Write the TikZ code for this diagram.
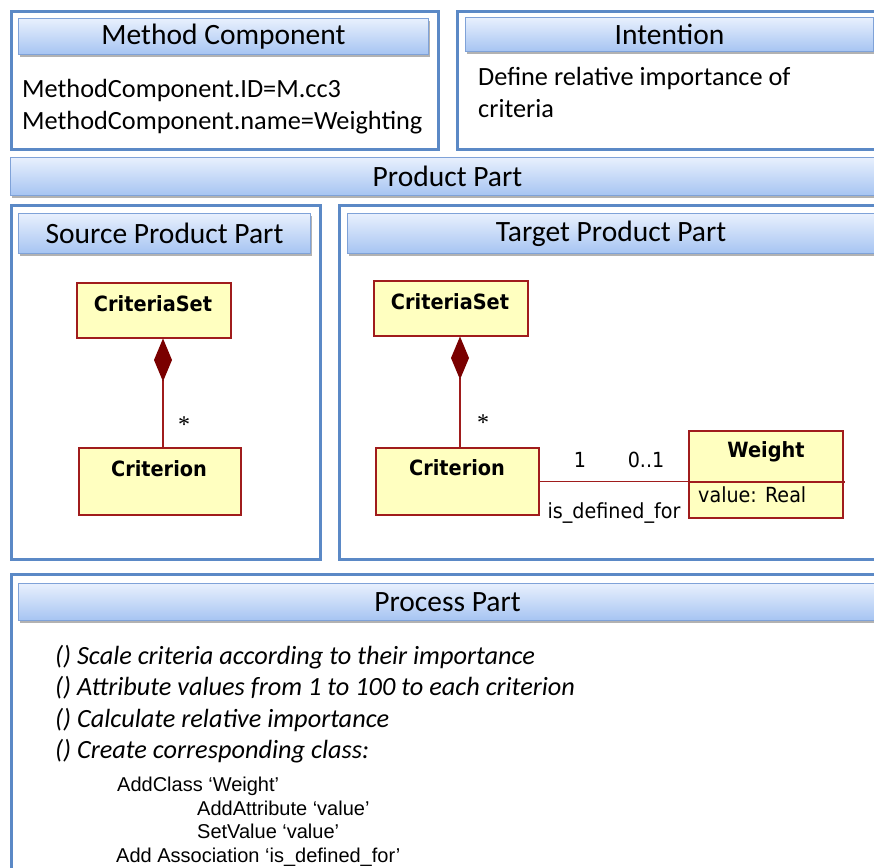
\documentclass[tikz,border=0pt]{standalone}
\usepackage{fontspec}
\setmainfont{Carlito}
\newfontfamily\clsfont[FakeStretch=0.92]{DejaVu Sans}
\newfontfamily\arialfont{Liberation Sans}
\newfontfamily\seriffont{Liberation Serif}
\usetikzlibrary{arrows.meta,shadows}
\definecolor{boxblue}{HTML}{5B89C6}
\definecolor{hdrline}{HTML}{7FA2D8}
\definecolor{hdrtop}{HTML}{E8F0FD}
\definecolor{hdrbot}{HTML}{A6C4F2}
\definecolor{clsfill}{HTML}{FFFFC0}
\definecolor{clsline}{HTML}{A01C1C}
\definecolor{diam}{HTML}{7A0000}
\begin{document}
\begin{tikzpicture}[x=1pt,y=-1pt,
  outer/.style={draw=boxblue,line width=3pt,fill=white,anchor=north west,inner sep=0pt},
  hdr/.style={draw=hdrline,line width=1pt,top color=hdrtop,bottom color=hdrbot,
    drop shadow={shadow xshift=1.5pt,shadow yshift=-2.5pt,fill=black,opacity=0.3},
    anchor=north west,inner sep=0pt,font=\fontsize{29.5}{31}\selectfont},
  body/.style={anchor=base west,inner sep=0pt,font=\fontsize{26.3}{28}\selectfont},
  proc/.style={anchor=base west,inner sep=0pt,font=\fontsize{26.3}{28}\selectfont\itshape},
  sub/.style={anchor=base west,inner sep=0pt,font=\arialfont\fontsize{20}{22}\selectfont},
  cls/.style={draw=clsline,line width=1.5pt,fill=clsfill,anchor=north west,inner sep=0pt},
  clstxt/.style={inner sep=0pt,font=\clsfont\bfseries\fontsize{21}{23}\selectfont},
  lbl/.style={inner sep=0pt,font=\clsfont\fontsize{20.8}{22}\selectfont},
  mult/.style={inner sep=0pt,font=\seriffont\fontsize{24}{26}\selectfont},
  comp/.style={draw=clsline,line width=1.5pt,-{Diamond[length=43pt,width=18pt,fill=diam,color=diam]}},
  assoc/.style={draw=clsline,line width=1.5pt}]
\clip (0,0) rectangle (874,867);
\fill[white] (0,0) rectangle (874,867);
% Method Component
\node[outer,minimum width=427pt,minimum height=138pt] (mcbox) at (10,10) {};
\node[hdr,minimum width=410pt,minimum height=36pt] (mch) at (18,18) {Method Component};
\node[body] (mcid) at (22,97) {MethodComponent.ID=M.cc3};
\node[body] (mcname) at (22,129) {MethodComponent.name=Weighting};
% Intention
\node[outer,minimum width=440pt,minimum height=138pt] (intbox) at (456,10) {};
\node[hdr,minimum width=408pt,minimum height=34pt] (inth) at (465,17) {Intention};
\node[body] (int1) at (478,85) {Define relative importance of};
\node[body] (int2) at (478,117) {criteria};
% Product Part
\node[hdr,minimum width=874pt,minimum height=38pt] (pph) at (10,157) {Product Part};
% Source
\node[outer,minimum width=309pt,minimum height=354pt] (srcbox) at (10,204) {};
\node[hdr,minimum width=292pt,minimum height=40pt] (srch) at (18,213) {Source Product Part};
\node[cls,minimum width=154pt,minimum height=55pt] (lcs) at (76,282) {};
\node[clstxt] (lcsT) at (153,304) {CriteriaSet};
\node[cls,minimum width=162pt,minimum height=67pt] (lcr) at (78,447) {};
\node[clstxt] (lcrT) at (159,469) {Criterion};
\draw[comp] ([xshift=85pt]lcr.north west) -- ([xshift=87pt]lcs.south west);
\node[mult] (lstar) at (184,425) {*};
% Target
\node[outer,minimum width=560pt,minimum height=354pt] (tgtbox) at (338,204) {};
\node[hdr,minimum width=527pt,minimum height=40pt] (tgth) at (347,213) {Target Product Part};
\node[cls,minimum width=154pt,minimum height=55pt] (rcs) at (373,280) {};
\node[clstxt] (rcsT) at (450,302) {CriteriaSet};
\node[cls,minimum width=163pt,minimum height=67pt] (rcr) at (375,447) {};
\node[clstxt] (rcrT) at (457,468) {Criterion};
\draw[comp] ([xshift=85pt]rcr.north west) -- ([xshift=87pt]rcs.south west);
\node[mult] (rstar) at (483,423) {*};
\node[cls,minimum width=154pt,minimum height=87pt] (wt) at (688,430) {};
\node[clstxt] (wtT) at (766,452) {Weight};
\draw[assoc] (wt.west |- 0,482) coordinate (wdl) -- (845,482) coordinate (wdr);
\node[lbl,anchor=base west] (wval) at (698,502) {value: Real};
\draw[assoc] (rcr.east) -- (rcr.east -| wt.west);
\node[lbl] (m1) at (580,460) {1};
\node[lbl] (m01) at (646,460) {0..1};
\node[lbl] (isdef) at (614,513) {is\_defined\_for};
% Process Part
\node[outer,minimum width=890pt,minimum height=330pt] (procbox) at (10,573) {};
\node[hdr,minimum width=858pt,minimum height=37pt] (proch) at (18,583) {Process Part};
\node[proc] (p1) at (55,664) {() Scale criteria according to their importance};
\node[proc] (p2) at (55,695) {() Attribute values from 1 to 100 to each criterion};
\node[proc] (p3) at (55,727) {() Calculate relative importance};
\node[proc] (p4) at (55,758) {() Create corresponding class:};
\node[sub] (s1) at (117,791) {AddClass ‘Weight’};
\node[sub] (s2) at (197,815) {AddAttribute ‘value’};
\node[sub] (s3) at (197,838) {SetValue ‘value’};
\node[sub] (s4) at (116,862) {Add Association ‘is\_defined\_for’};
\end{tikzpicture}
\end{document}
